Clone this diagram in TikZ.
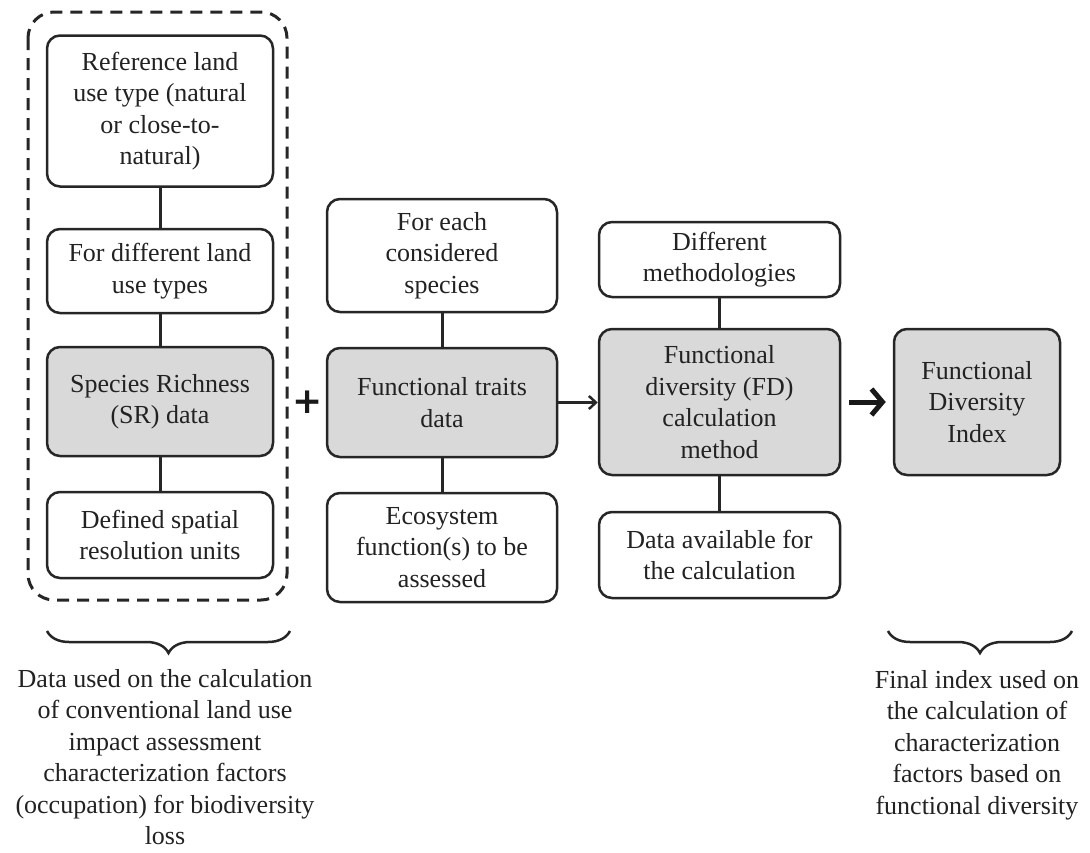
\documentclass[tikz,border=0pt]{standalone}
\usepackage{fontspec}
\setmainfont{Liberation Serif}
\newfontfamily\plusfont{DejaVu Sans}
\usetikzlibrary{arrows.meta,decorations.pathreplacing}
\definecolor{txt}{HTML}{222222}
\definecolor{fillg}{HTML}{D9D9D9}
\begin{document}
\begin{tikzpicture}[x=1pt,y=-1pt,
  wbox/.style={draw=black!85, line width=2.5pt, rounded corners=13pt, fill=white,
    inner sep=0pt, align=center, text=txt,
    font=\fontsize{26}{31.5}\selectfont},
  gbox/.style={wbox, fill=fillg},
  link/.style={draw=black!85, line width=3pt},
  lbl/.style={inner sep=0pt, align=center, text=txt, font=\fontsize{26}{31.5}\selectfont},
  bracedeco/.style={draw=black!85, line width=2.5pt, decorate,
    decoration={brace, mirror, amplitude=22pt}}
]
\useasboundingbox (0,0) rectangle (1090,852);

% dashed group
\draw[black!85, line width=3pt, dash pattern=on 12pt off 8pt, rounded corners=26pt]
  (28,12) rectangle (287,600);

% column 1
\node[wbox, minimum width=226pt, minimum height=151pt] (b1) at (160,111)
  {Reference land\\use type (natural\\or close-to-\\natural)};
\node[wbox, minimum width=226pt, minimum height=84pt] (b2) at (160,271)
  {For different land\\use types};
\node[gbox, minimum width=226pt, minimum height=109pt] (b3) at (160,401.5)
  {Species Richness\\(SR) data};
\node[wbox, minimum width=226pt, minimum height=86pt] (b4) at (160,535)
  {Defined spatial\\resolution units};

% column 2
\node[wbox, minimum width=230pt, minimum height=113pt] (c1) at (442,255.5)
  {For each\\considered\\species};
\node[gbox, minimum width=230pt, minimum height=109pt] (c2) at (442,402.5)
  {Functional traits\\data};
\node[wbox, minimum width=230pt, minimum height=109pt] (c3) at (442,547.5)
  {Ecosystem\\function(s) to be\\assessed};

% column 3
\node[wbox, minimum width=241pt, minimum height=75pt] (d1) at (719.5,259.5)
  {Different\\methodologies};
\node[gbox, minimum width=241pt, minimum height=146pt] (d2) at (719.5,402)
  {Functional\\diversity (FD)\\calculation\\method};
\node[wbox, minimum width=241pt, minimum height=86pt] (d3) at (719.5,555)
  {Data available for\\the calculation};

% index
\node[gbox, minimum width=166pt, minimum height=146pt] (e) at (977,402)
  {Functional\\Diversity\\Index};

% plus
\node[inner sep=0pt, text=black!90, font=\fontsize{36}{36}\selectfont\plusfont\bfseries] (plus) at (308,402) {+};

% connectors
\draw[link] (b1) -- (b2);
\draw[link] (b2) -- (b3);
\draw[link] (b3) -- (b4);
\draw[link] (c1) -- (c2);
\draw[link] (c2) -- (c3);
\draw[link] (d1) -- (d2);
\draw[link] (d2) -- (d3);
\draw[link, line width=2.5pt, -{Straight Barb[length=7pt,width=13pt]}]
  (c2.east) -- (c2.east -| d2.west);
\draw[black!90, line width=5pt, shorten <=8pt, shorten >=7pt,
  -{Straight Barb[length=11pt,width=26pt,line width=5pt]}] (d2.east) -- (e.west);

% braces
\coordinate (l1) at (47,631);
\coordinate (l2) at (290,631);
\coordinate (r1) at (888,631);
\coordinate (r2) at (1072,631);
\draw[bracedeco] (l1) -- (l2);
\draw[bracedeco] (r1) -- (r2);

% bottom labels
\node[lbl, anchor=north] (lt) at (165,669)
  {Data used on the calculation\\of conventional land use\\impact assessment\\characterization factors\\(occupation) for biodiversity\\loss};
\node[lbl, anchor=north] (rt) at (977,670)
  {Final index used on\\the calculation of\\characterization\\factors based on\\functional diversity};
\end{tikzpicture}
\end{document}
